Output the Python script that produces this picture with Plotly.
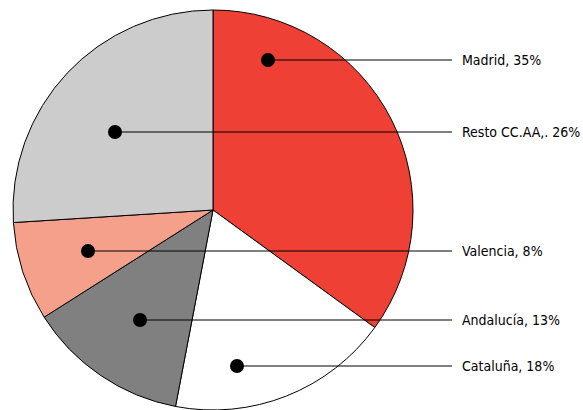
import plotly.graph_objects as go

# Share by region (%), clockwise from 12 o'clock
regions = ["Madrid", "Cataluña", "Andalucía", "Valencia", "Resto CC.AA"]
shares = [35, 18, 13, 8, 26]
label_names = ["Madrid,", "Cataluña,", "Andalucía,", "Valencia,", "Resto CC.AA,."]
colors = ["#EF4035", "#FFFFFF", "#808080", "#F5A08A", "#CCCCCC"]

W, H = 583, 410

# Callout geometry in page pixels: dot position inside each slice, label row
dot_xy = [(268, 60), (237, 366), (140, 320), (88, 251), (115, 132)]
dot_r = 7
line_end_x = 452
text_x = 460

fig = go.Figure()

fig.add_trace(go.Pie(
    labels=regions,
    values=shares,
    sort=False,
    direction="clockwise",
    rotation=0,
    marker=dict(colors=colors, line=dict(color="#000000", width=1)),
    textinfo="none",
    hoverinfo="label+percent",
    showlegend=False,
    domain=dict(x=[0, 426 / W], y=[0, 1 - 10 / H]),
))

# invisible trace to anchor the pixel-space axes
fig.add_trace(go.Scatter(x=[0, W], y=[0, H], mode="markers",
                         marker=dict(opacity=0), hoverinfo="skip", showlegend=False))

# leader lines and dots, drawn above the pie
for (x, y) in dot_xy:
    fig.add_shape(type="line", x0=x, y0=y, x1=line_end_x, y1=y,
                  xref="x", yref="y", layer="above",
                  line=dict(color="#000000", width=1.2))
    fig.add_shape(type="circle", x0=x - dot_r, y0=y - dot_r, x1=x + dot_r, y1=y + dot_r,
                  xref="x", yref="y", layer="above",
                  fillcolor="#000000", line=dict(color="#000000", width=0))

for name, v, (x, y) in zip(label_names, shares, dot_xy):
    fig.add_annotation(
        x=text_x, y=y, xref="x", yref="y",
        text=f"{name} {v}%", showarrow=False,
        xanchor="left", yanchor="middle",
        font=dict(family="DejaVu Sans Condensed, DejaVu Sans", size=14, color="#000000"),
    )

fig.update_layout(
    width=W, height=H,
    margin=dict(l=0, r=0, t=0, b=0),
    paper_bgcolor="#FFFFFF",
    plot_bgcolor="rgba(0,0,0,0)",
    xaxis=dict(range=[0, W], visible=False, fixedrange=True),
    yaxis=dict(range=[H, 0], visible=False, fixedrange=True),
)

fig.write_html("out.html")
